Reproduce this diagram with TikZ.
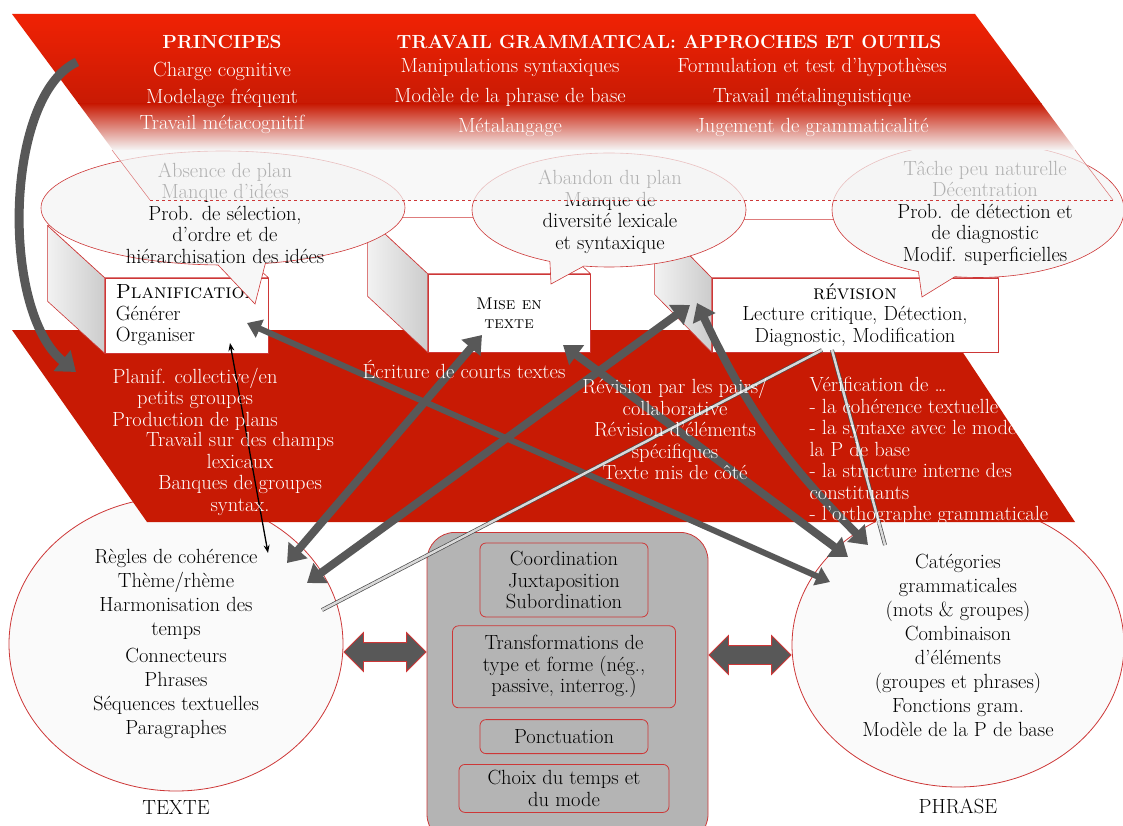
\documentclass[tikz,border=0pt]{standalone}
\usetikzlibrary{positioning,calc,shapes.geometric,shapes.callouts,shapes.arrows,arrows.meta}
\definecolor{rougevif}{RGB}{240,34,4}
\definecolor{rougefonce}{RGB}{200,26,4}
\definecolor{bordrouge}{RGB}{205,55,55}
\definecolor{flechegris}{RGB}{88,88,88}
\definecolor{fondgris}{RGB}{180,180,180}
\tikzset{
  texte band/.style={
    text=white,
    align=center,
    font=\fontsize{20.5}{21.5}\selectfont,
  },
  titre band/.style={
    text=white,
    font=\bfseries\fontsize{19}{22}\selectfont,
  },
  front box/.style={
    draw=bordrouge,
    fill=white,
    line width=.7pt,
    align=center,
    inner sep=2pt,
    font=\fontsize{20.5}{21.5}\selectfont,
  },
  side face/.style={
    draw=bordrouge,
    line width=.6pt,
    left color=gray!10,
    right color=gray!40,
  },
  top face/.style={
    draw=bordrouge,
    line width=.6pt,
    fill=white,
  },
  bulle/.style={
    ellipse callout,
    draw=bordrouge,
    fill=gray!6,
    line width=.6pt,
    inner sep=0pt,
  },
  bulle texte/.style={
    align=center,
    font=\fontsize{20.5}{21.5}\selectfont,
  },
  rond/.style={
    ellipse,
    draw=bordrouge,
    fill=gray!4,
    line width=.8pt,
    align=center,
    inner sep=2pt,
    font=\fontsize{20.5}{24}\selectfont,
  },
  etiquette/.style={
    font=\fontsize{20.5}{22}\selectfont,
  },
  centre box/.style={
    draw=bordrouge,
    fill=fondgris,
    rounded corners=28pt,
    line width=.8pt,
  },
  gram box/.style={
    draw=bordrouge,
    rounded corners=6pt,
    line width=.8pt,
    align=center,
    inner sep=1pt,
    font=\fontsize{20.5}{21.5}\selectfont,
  },
  double fleche/.style={
    double arrow,
    fill=flechegris,
    draw=bordrouge,
    line width=.8pt,
    minimum height=82pt,
    minimum width=38pt,
    inner sep=9pt,
    double arrow head extend=10pt,
  },
  gros lien/.style={
    draw=flechegris,
    line width=8pt,
    {Triangle[length=17pt,width=24pt]}-{Triangle[length=17pt,width=24pt]},
  },
  moyen lien/.style={
    draw=flechegris,
    line width=6pt,
    {Triangle[length=14pt,width=19pt]}-{Triangle[length=14pt,width=19pt]},
  },
  fil double/.style={
    draw=black!70,
    double=gray!30,
    double distance=2.5pt,
    line width=.7pt,
  },
  fin lien/.style={
    draw=black,
    line width=1.3pt,
    {Stealth[length=8pt,width=6pt]}-{Stealth[length=8pt,width=6pt]},
  },
}

\begin{document}
\begin{tikzpicture}[x=1pt, y=-1pt, node distance=9pt]
        \useasboundingbox (0,0) rectangle (1123,826);

        \node [rond, minimum width=334pt, minimum height=294pt] (texte) at (176,644)
          {Règles de cohérence\\Thème/rhème\\Harmonisation des\\temps\\[3pt]Connecteurs\\Phrases\\Séquences textuelles\\Paragraphes};
        \node [rond, minimum width=332pt, minimum height=284pt] (phrase) at (958,645)
          {Catégories\\grammaticales\\(mots \& groupes)\\Combinaison\\d’éléments\\(groupes et phrases)\\Fonctions gram.\\Modèle de la P de base};
        \node [etiquette, below=6pt of texte] (lab texte) {TEXTE};
        \node [etiquette, below=8pt of phrase] (lab phrase) {PHRASE};

        \fill [rougefonce] (12,330) -- (948,330) -- (1075,522) -- (147,522) -- cycle;

        \node [front box, minimum width=163pt, minimum height=75pt, align=left] (plan) at (186.5,315.5)
          {\textsc{Planification}\\Générer\\Organiser};
        \node [front box, minimum width=162pt, minimum height=78pt, font=\fontsize{17}{19}\selectfont] (mise) at (509,313)
          {\textsc{Mise en}\\\textsc{texte}};
        \node [front box, minimum width=286pt, minimum height=74pt] (revi) at (855,315)
          {\textsc{révision}\\Lecture critique, Détection,\\Diagnostic, Modification};
        \foreach \n/\dx/\dy in {plan/57/52, mise/60/56, revi/57/58} {
          \shadedraw [side face] (\n.north west) -- ++(-\dx,-\dy) -- ($(\n.south west)+(-\dx,-\dy)$) -- (\n.south west) -- cycle;
          \filldraw [top face] (\n.north west) -- ++(-\dx,-\dy) -- ($(\n.north east)+(-\dx,-\dy)$) -- (\n.north east) -- cycle;
        }

        \coordinate (pointe1) at (255,304);
        \coordinate (pointe2) at (551,284);
        \coordinate (pointe3) at (922,297);
        \node [bulle, minimum width=364pt, minimum height=114pt, callout absolute pointer={(pointe1)}] (bulle1) at (223,208) {};
        \node [bulle, minimum width=274pt, minimum height=114pt, callout absolute pointer={(pointe2)}] (bulle2) at (609,210) {};
        \node [bulle, minimum width=292pt, minimum height=135pt, callout absolute pointer={(pointe3)}] (bulle3) at (978,210) {};
        \node [bulle texte] at ($(bulle1.center)+(2,5)$)
          {Absence de plan\\Manque d’idées\\Prob. de sélection,\\d’ordre et de\\hiérarchisation des idées};
        \node [bulle texte] at ($(bulle2.center)+(1,2)$)
          {Abandon du plan\\Manque de\\diversité lexicale\\et syntaxique};
        \node [bulle texte] at ($(bulle3.center)+(7,3)$)
          {Tâche peu naturelle\\Décentration\\Prob. de détection et\\de diagnostic\\Modif. superficielles};

        \begin{scope}
          \clip (12,14) -- (975,14) -- (1113,200) -- (150,200) -- cycle;
          \shade [top color=rougevif, bottom color=rougefonce] (0,14) rectangle (1123,104);
          \shade [top color=rougefonce, bottom color=gray!8] (0,104) rectangle (1123,150);
          \fill [gray!8, fill opacity=.72] (0,150) rectangle (1123,200);
        \end{scope}
        \draw [bordrouge!70, line width=.5pt] (112,150) -- (150,200) (1075,150) -- (1113,200);
        \draw [bordrouge, dashed, line width=.6pt] (150,200) -- (1113,200);

        \node [titre band] (principes) at (222,42) {PRINCIPES};
        \node [texte band, font=\fontsize{20.5}{26.5}\selectfont] (liste principes) at (222,98)
          {Charge cognitive\\Modelage fréquent\\Travail métacognitif};
        \node [titre band] (travail) at (669,42) {TRAVAIL GRAMMATICAL: APPROCHES ET OUTILS};
        \node [texte band, font=\fontsize{20.5}{30}\selectfont] (approches) at (510,97)
          {Manipulations syntaxiques\\Modèle de la phrase de base\\Métalangage};
        \node [texte band, font=\fontsize{20.5}{30}\selectfont] (outils) at (812,97)
          {Formulation et test d’hypothèses\\Travail métalinguistique\\Jugement de grammaticalité};

        \node [centre box, minimum width=281pt, minimum height=310pt, anchor=north] (centre) at (567.5,532) {};
        \node [gram box, minimum width=168pt, minimum height=74pt] (coord) at (564,580)
          {Coordination\\Juxtaposition\\Subordination};
        \node [gram box, minimum width=223pt, minimum height=82pt, below=8pt of coord] (transf)
          {Transformations de\\type et forme (nég.,\\passive, interrog.)};
        \node [gram box, minimum width=168pt, minimum height=34pt, below=11pt of transf] (ponct) {Ponctuation};
        \node [gram box, minimum width=210pt, minimum height=48pt, below=10pt of ponct] (choix)
          {Choix du temps et\\du mode};
        \node [double fleche] (lien gauche) at ($(texte.east)!.5!(texte.east -| centre.west)+(0,8)$) {};
        \node [double fleche] (lien droit) at ($(phrase.west)!.5!(phrase.west -| centre.east)+(0,10)$) {};

        \coordinate (depart) at (77,62);
        \coordinate (arrivee) at (76,372);
        \draw [draw=flechegris, line width=9pt, -{Triangle[length=18pt,width=26pt]}]
          (depart) .. controls (5,95) and (0,310) .. (arrivee);
        \draw [gros lien] ($(texte.center)+(111,-81)$) -- ($(mise.center)+(-27,22)$);
        \draw [gros lien] ($(texte.center)+(131,-61)$) -- ($(revi.center)+(-165,-10)$);
        \draw [moyen lien] ($(plan.center)+(60.5,7.5)$) -- ($(phrase.center)+(-128,-63)$);
        \draw [gros lien] ($(mise.center)+(54,32)$) -- ($(phrase.center)+(-110,-88)$);
        \draw [gros lien] ($(revi.center)+(-158,-12)$) to [bend right=10] ($(phrase.center)+(-90,-100)$);
        \draw [fil double] ($(texte.center)+(146,-34)$) -- ($(revi.center)+(-33,35)$);
        \draw [fil double] ($(revi.center)+(-23,35)$) -- ($(phrase.center)+(-73,-100)$);
        \draw [fin lien] ($(plan.center)+(43.5,27.5)$) -- ($(texte.center)+(92,-91)$);

        \node [texte band] (planif) at (195,399)
          {Planif. collective/en\\petits groupes\\Production de plans};
        \node [texte band] (champs) at (240,474)
          {Travail sur des champs\\lexicaux\\Banques de groupes\\syntax.};
        \node [texte band] (ecriture) at (464,369) {Écriture de courts textes};
        \node [texte band] (pairs) at (675,429)
          {Révision par les pairs/\\collaborative\\Révision d’éléments\\spécifiques\\Texte mis de côté};
        \node [texte band, align=left, anchor=west] (verif) at (806,451)
          {Vérification de …\\- la cohérence textuelle\\- la syntaxe avec le modèle de\\la P de base\\- la structure interne des\\constituants\\- l’orthographe grammaticale};
      \end{tikzpicture}
\end{document}
